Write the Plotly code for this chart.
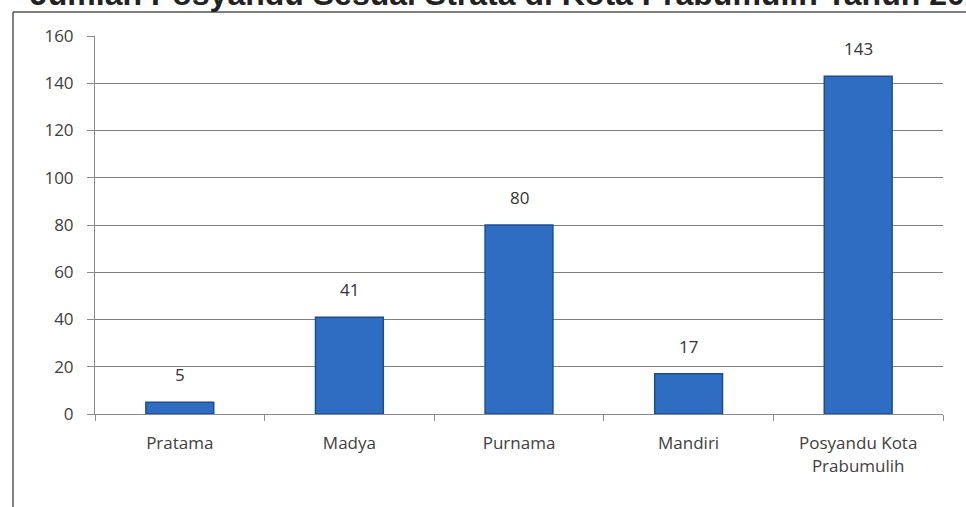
import plotly.graph_objects as go

# Jumlah posyandu menurut strata
categories = ["Pratama", "Madya", "Purnama", "Mandiri", "Posyandu Kota<br>Prabumulih"]
counts = [5, 41, 80, 17, 143]
y_ticks = [0, 20, 40, 60, 80, 100, 120, 140, 160]
title_text = "Jumlah Posyandu Sesuai Strata di Kota Prabumulih Tahun 2020"

W, H = 966, 507
L, R, T, B = 95, 23, 36, 93
pw, ph = W - L - R, H - T - B
FONT = "Open Sans, Liberation Sans, sans-serif"

def px_x(p):
    return (p - L) / pw

def px_y(p):
    return (H - B - p) / ph

fig = go.Figure()
fig.add_trace(go.Bar(
    x=categories,
    y=counts,
    width=0.4,
    marker=dict(color="#2f6dc2", line=dict(color="#1f4c8f", width=1.5)),
    hoverinfo="x+y",
))

# Value labels above each bar
for cat, val in zip(categories, counts):
    fig.add_annotation(
        x=cat, y=val, text=str(val), showarrow=False,
        yanchor="bottom", yshift=14,
        font=dict(family=FONT, size=17, color="#333333"),
    )

# Outer chart frame (left and top edges)
fig.add_shape(type="line", xref="paper", yref="paper",
              x0=px_x(13), x1=px_x(13), y0=px_y(12), y1=px_y(520),
              line=dict(color="#555555", width=1.5))
fig.add_shape(type="line", xref="paper", yref="paper",
              x0=px_x(13), x1=px_x(980), y0=px_y(12), y1=px_y(12),
              line=dict(color="#555555", width=1.5))

fig.add_annotation(
    text="<b>" + title_text + "</b>", xref="paper", yref="paper",
    x=px_x(28), y=px_y(14), xanchor="left", yanchor="bottom",
    showarrow=False,
    font=dict(family="Liberation Sans, Arial, sans-serif", size=32, color="#222222"),
)

fig.update_layout(
    width=W, height=H,
    margin=dict(l=L, r=R, t=T, b=B),
    paper_bgcolor="white", plot_bgcolor="white",
    showlegend=False,
    bargap=0.6,
)
fig.update_yaxes(
    range=[0, 160], tickvals=y_ticks,
    showgrid=True, gridcolor="#7f7f7f", gridwidth=1.2,
    showline=True, linecolor="#8a8a8a", linewidth=1,
    ticks="outside", ticklen=7, tickcolor="#8a8a8a",
    ticklabelstandoff=10,
    tickfont=dict(family=FONT, size=17, color="#404040"),
    zeroline=False,
)
fig.update_xaxes(
    showline=True, linecolor="#8a8a8a", linewidth=1,
    ticks="outside", ticklen=6, tickcolor="#8a8a8a", tickson="boundaries",
    ticklabelstandoff=14,
    tickfont=dict(family=FONT, size=17, color="#404040"),
)

fig.write_html("out.html")
